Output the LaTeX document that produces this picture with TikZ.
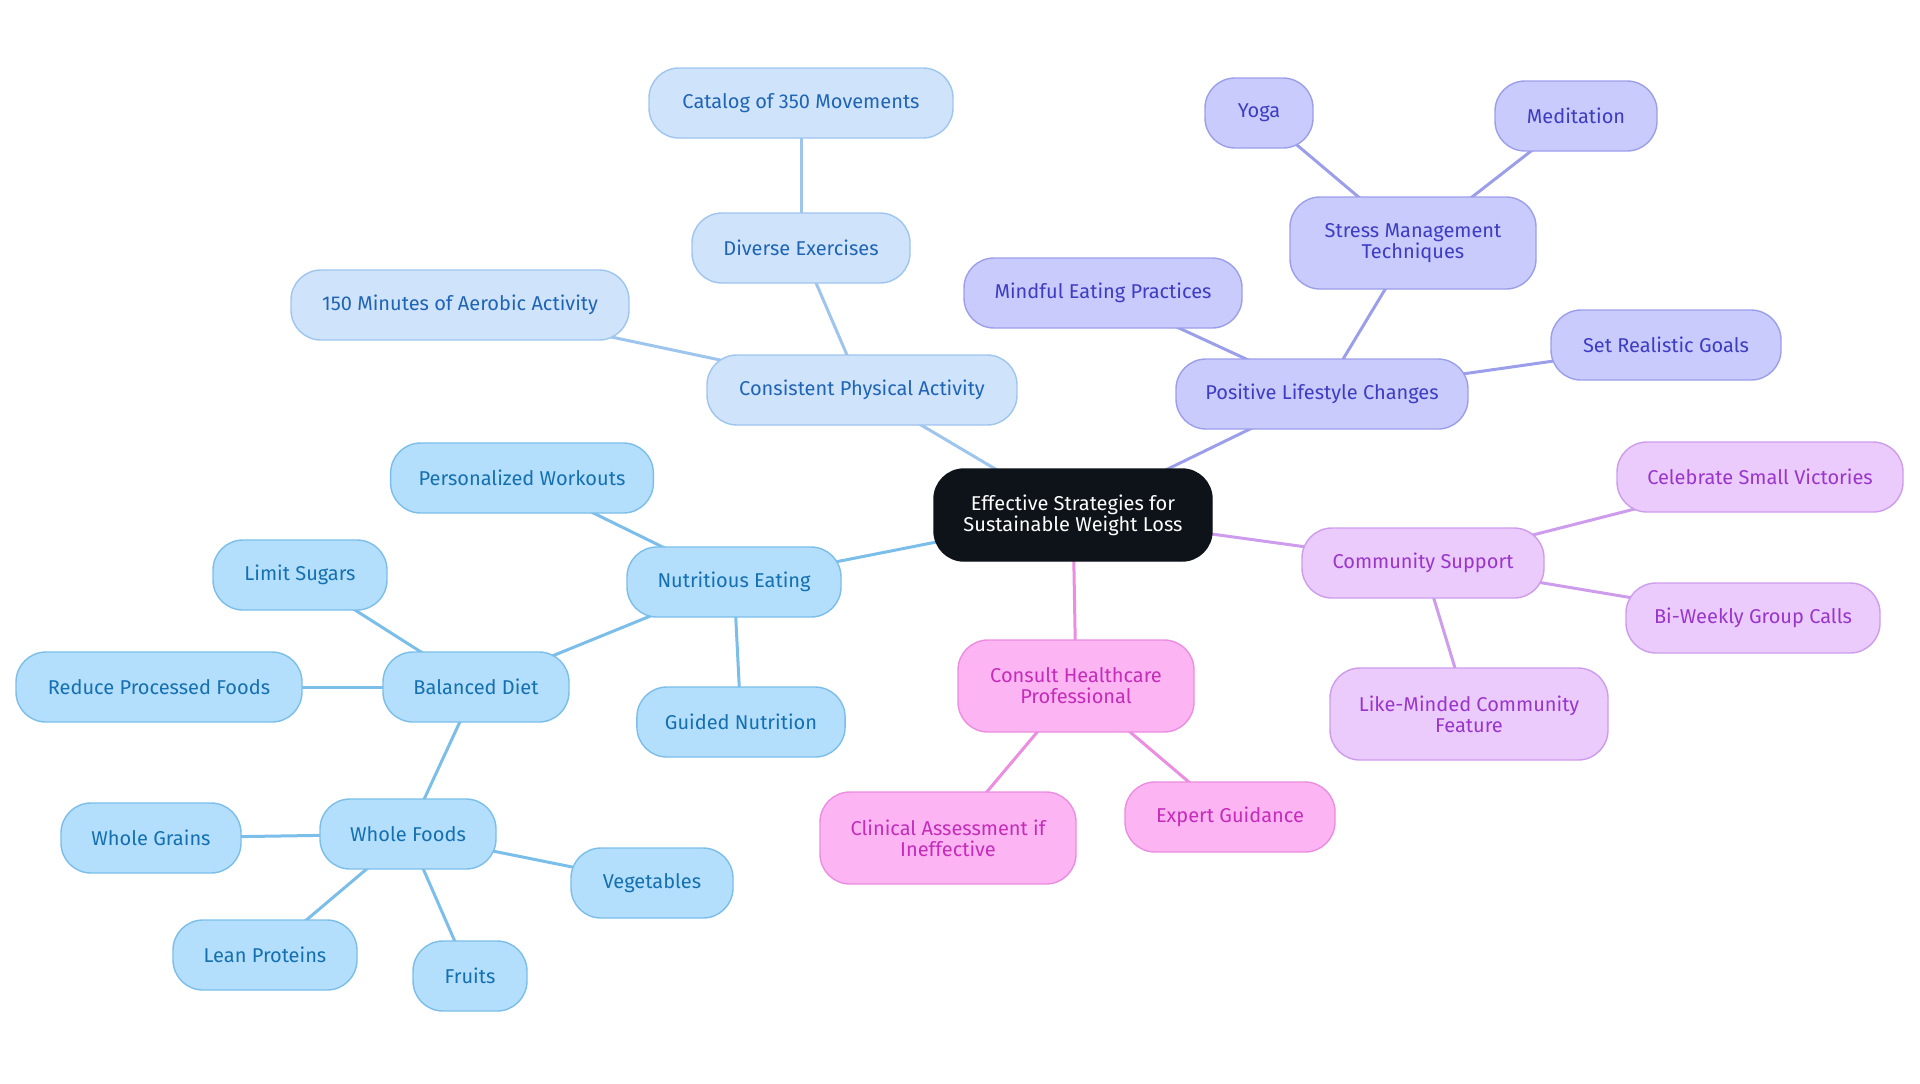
\documentclass[tikz,border=0pt]{standalone}
\usepackage{fontspec}
\setmainfont{Fira Sans}
\usetikzlibrary{backgrounds}

\definecolor{rootFill}{HTML}{0D1319}
\definecolor{moveFill}{HTML}{CFE3FB}
\definecolor{moveLine}{HTML}{9EC5EE}
\definecolor{moveText}{HTML}{1F64B5}
\definecolor{foodFill}{HTML}{B3DEFC}
\definecolor{foodLine}{HTML}{7BBEE9}
\definecolor{foodText}{HTML}{1470B0}
\definecolor{lifeFill}{HTML}{C8CBFC}
\definecolor{lifeLine}{HTML}{9B9FEA}
\definecolor{lifeText}{HTML}{3E3CC2}
\definecolor{commFill}{HTML}{EACBFC}
\definecolor{commLine}{HTML}{CD9CEC}
\definecolor{commText}{HTML}{9A35CC}
\definecolor{careFill}{HTML}{FCB5F2}
\definecolor{careLine}{HTML}{EB8DE1}
\definecolor{careText}{HTML}{C42CB9}

\tikzset{
  box/.style={rounded corners=15pt, line width=0.7pt, align=center,
    inner xsep=14pt, inner ysep=0pt, minimum height=35pt,
    font=\fontsize{10}{10.5}\selectfont},
  tall/.style={minimum height=46pt},
  rootbox/.style={box, fill=rootFill, draw=rootFill, text=white},
  move/.style={box, fill=moveFill, draw=moveLine, text=moveText},
  food/.style={box, fill=foodFill, draw=foodLine, text=foodText},
  life/.style={box, fill=lifeFill, draw=lifeLine, text=lifeText},
  comm/.style={box, fill=commFill, draw=commLine, text=commText},
  care/.style={box, fill=careFill, draw=careLine, text=careText},
  link/.style={line width=1.5pt}
}

\begin{document}
\begin{tikzpicture}[x=0.5pt, y=-0.5pt]
\useasboundingbox (0,0) rectangle (1920,1083);

\node[rootbox, tall, minimum width=139pt] (root) at (1073,515) {Effective Strategies for\\Sustainable Weight Loss};

% physical activity
\node[move, minimum width=155pt] (activity) at (862,390) {Consistent Physical Activity};
\node[move, minimum width=109pt] (diverse) at (801,248) {Diverse Exercises};
\node[move, minimum width=152pt] (catalog) at (801,103) {Catalog of 350 Movements};
\node[move, minimum width=169pt] (aerobic) at (460,305) {150 Minutes of Aerobic Activity};

% eating
\node[food, minimum width=107pt] (eating) at (734,582) {Nutritious Eating};
\node[food, minimum width=131pt] (workouts) at (522,478) {Personalized Workouts};
\node[food, minimum width=104pt] (guided) at (741,722) {Guided Nutrition};
\node[food, minimum width=93pt] (diet) at (476,687) {Balanced Diet};
\node[food, minimum width=87pt] (sugars) at (300,575) {Limit Sugars};
\node[food, minimum width=143pt] (processed) at (159,687) {Reduce Processed Foods};
\node[food, minimum width=88pt] (wholefoods) at (408,834) {Whole Foods};
\node[food, minimum width=90pt] (grains) at (151,838) {Whole Grains};
\node[food, minimum width=81pt] (veg) at (652,883) {Vegetables};
\node[food, minimum width=92pt] (proteins) at (265,955) {Lean Proteins};
\node[food, minimum width=57pt] (fruits) at (470,976) {Fruits};

% lifestyle
\node[life, minimum width=146pt] (lifestyle) at (1322,394) {Positive Lifestyle Changes};
\node[life, minimum width=139pt] (mindful) at (1103,293) {Mindful Eating Practices};
\node[life, tall, minimum width=123pt] (stress) at (1413,243) {Stress Management\\Techniques};
\node[life, minimum width=54pt] (yoga) at (1259,113) {Yoga};
\node[life, minimum width=81pt] (meditation) at (1576,116) {Meditation};
\node[life, minimum width=115pt] (goals) at (1666,345) {Set Realistic Goals};

% community
\node[comm, minimum width=121pt] (community) at (1423,563) {Community Support};
\node[comm, minimum width=143pt] (victories) at (1760,477) {Celebrate Small Victories};
\node[comm, minimum width=127pt] (calls) at (1753,618) {Bi-Weekly Group Calls};
\node[comm, tall, minimum width=139pt] (likeminded) at (1469,714) {Like-Minded Community\\Feature};

% healthcare
\node[care, tall, minimum width=118pt] (consult) at (1076,686) {Consult Healthcare\\Professional};
\node[care, tall, minimum width=128pt] (clinical) at (948,838) {Clinical Assessment if\\Ineffective};
\node[care, minimum width=105pt] (expert) at (1230,817) {Expert Guidance};

% connectors, behind the boxes
\begin{scope}[on background layer]
\foreach \a/\b in {root/activity, activity/diverse, diverse/catalog, activity/aerobic}
  \draw[link, moveLine] (\a.center) -- (\b.center);
\foreach \a/\b in {root/eating, eating/workouts, eating/guided, eating/diet, diet/sugars,
    diet/processed, diet/wholefoods, wholefoods/grains, wholefoods/veg,
    wholefoods/proteins, wholefoods/fruits}
  \draw[link, foodLine] (\a.center) -- (\b.center);
\foreach \a/\b in {root/lifestyle, lifestyle/mindful, lifestyle/stress, stress/yoga,
    stress/meditation, lifestyle/goals}
  \draw[link, lifeLine] (\a.center) -- (\b.center);
\foreach \a/\b in {root/community, community/victories, community/calls, community/likeminded}
  \draw[link, commLine] (\a.center) -- (\b.center);
\foreach \a/\b in {root/consult, consult/clinical, consult/expert}
  \draw[link, careLine] (\a.center) -- (\b.center);
\end{scope}
\end{tikzpicture}
\end{document}
